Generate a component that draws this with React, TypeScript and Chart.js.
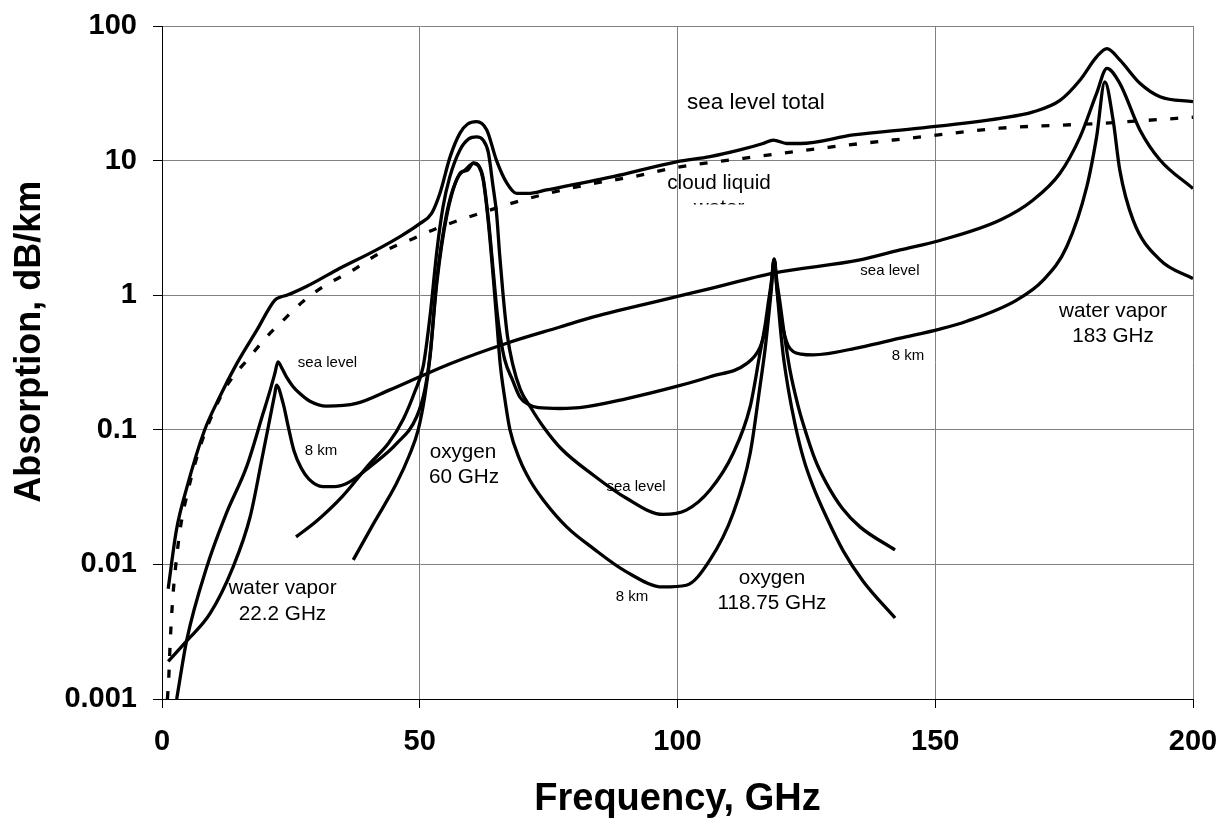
import React, { useEffect, useRef } from "react";
import { Chart, registerables } from "chart.js";

Chart.register(...registerables);

type Pt = [number, number];

// ---- axes ----
const FREQUENCY_TICKS = [0, 50, 100, 150, 200];
const ABSORPTION_TICKS = [0.001, 0.01, 0.1, 1, 10, 100];

// ---- series: [frequency GHz, absorption dB/km] ----
const seaLevelTotal: Pt[] = [
  [1.2, 0.0066], [2.8, 0.018], [4.8, 0.037], [8.2, 0.098], [11.2, 0.176], [14.5, 0.31],
  [18.4, 0.55], [21.9, 0.92], [23, 0.97], [24.2, 1.0], [28, 1.16], [33.9, 1.54], [41.6, 2.17],
  [46, 2.7], [50, 3.4], [52.3, 4.06], [53.9, 5.7], [55.9, 10.7], [57.8, 16], [59.3, 18.7],
  [61, 19.5], [63, 16.9], [64.9, 10], [66.9, 6.8], [68.8, 5.7], [71, 5.7], [74.6, 6.05],
  [87.5, 7.6], [99.8, 9.8], [106.3, 10.7], [112.1, 12], [116.6, 13.4], [118.6, 14.2],
  [121.2, 13.4], [123.8, 13.4], [134.1, 15.5], [147, 17.4], [162.6, 20.6], [169, 23],
  [174.2, 28], [178.1, 39.7], [181.3, 59], [183.3, 68], [185.8, 56], [189.7, 37.5],
  [193.6, 29.8], [200, 27.4],
];

const cloudLiquidWater: Pt[] = [
  [1.05, 0.001], [1.3, 0.0014], [1.6, 0.0027], [2.1, 0.0057], [2.5, 0.0085], [3.5, 0.018],
  [5.1, 0.036], [7.4, 0.075], [9.3, 0.118], [12.5, 0.21], [17.1, 0.35], [20.3, 0.49],
  [23.5, 0.65], [27.4, 0.9], [31.3, 1.16], [37.1, 1.54], [41.6, 1.99], [44.9, 2.29],
  [48.8, 2.64], [53.3, 3.14], [61.7, 4.06], [70, 5.1], [82.3, 6.6], [91.4, 7.6], [99.8, 8.9],
  [112.8, 10.4], [129.6, 12.6], [146, 14.8], [162.6, 17.4], [182, 18.9], [200, 21],
];

const waterVaporSeaLevel: Pt[] = [
  [2.85, 0.001], [4.8, 0.00274], [8.7, 0.0096], [12.5, 0.024], [16.4, 0.053], [19.6, 0.132],
  [21, 0.198], [21.9, 0.263], [22.5, 0.32], [23.2, 0.29], [24.2, 0.245], [25.4, 0.21],
  [26.8, 0.185], [28.7, 0.163], [31.9, 0.15], [37.7, 0.157], [44.2, 0.198], [50, 0.248],
  [55.9, 0.31], [66.9, 0.44], [77.2, 0.58], [83.7, 0.69], [99.8, 0.975], [106.3, 1.12],
  [118.6, 1.46], [135.4, 1.83], [143.2, 2.17], [150.9, 2.55], [162.6, 3.62], [169, 5.1],
  [174.2, 8.05], [178.1, 15], [181.3, 31.6], [183.3, 48.5], [185.8, 37.5], [189.7, 16.9],
  [193.6, 10.1], [200, 6.2],
];

const eightKmTotal: Pt[] = [
  [1.2, 0.0019], [4.8, 0.0027], [9.3, 0.0043], [13.8, 0.0096], [17.1, 0.0226], [19.6, 0.067],
  [21, 0.125], [21.9, 0.187], [22.2, 0.215], [23.5, 0.157], [24.5, 0.105], [25.6, 0.07],
  [27, 0.052], [28.5, 0.043], [31.2, 0.0378], [34, 0.038], [36.4, 0.041], [40.3, 0.053],
  [45.5, 0.079], [49.4, 0.125], [51, 0.2], [52, 0.36], [53.3, 1.3], [55.2, 4.0], [57, 7],
  [58.4, 8.3], [59.3, 8.5], [60.4, 9.6], [61.5, 9.1], [62.3, 7.4], [63.3, 3.7], [64.3, 1.45],
  [65, 0.75], [65.6, 0.5], [66.5, 0.33], [68, 0.234], [69.4, 0.176], [71, 0.155], [73, 0.146],
  [77.2, 0.144], [81, 0.146], [90, 0.17], [99.8, 0.21], [106.3, 0.248], [113.4, 0.31],
  [116, 0.41], [117, 0.55], [117.7, 0.8], [118.2, 1.2], [118.75, 1.85], [119.3, 1.1],
  [120, 0.7], [120.8, 0.5], [121.5, 0.42], [122.5, 0.38], [124, 0.365], [126.3, 0.36],
  [135.4, 0.41], [143.2, 0.48], [150.9, 0.56], [156.1, 0.64], [165.8, 0.92], [171, 1.3],
  [175.5, 2.29], [179.4, 6.4], [181.3, 15], [182.9, 38.5], [184.5, 20], [185.8, 8.5],
  [188.4, 3.6], [193.6, 1.83], [200, 1.33],
];

const oxygenSeaLevel: Pt[] = [
  [26, 0.016], [30, 0.021], [35, 0.032], [40.3, 0.056], [44, 0.08], [46.8, 0.12],
  [49, 0.19], [50.7, 0.3], [52, 0.7], [53.3, 2.1], [54.5, 4.5], [55.8, 7.5], [57.8, 12],
  [59.5, 14.5], [61, 15], [62.3, 14.2], [63.3, 11.5], [64.2, 6.5], [64.9, 4.06], [65.5, 2],
  [66.2, 0.97], [67, 0.5], [68, 0.31], [69.5, 0.2], [71.4, 0.149], [74, 0.105], [77.5, 0.072],
  [83.7, 0.046], [90.1, 0.031], [97.2, 0.0235], [101.7, 0.0253], [106.3, 0.0357],
  [110.8, 0.067], [114.1, 0.149], [116, 0.37], [117, 0.6], [117.6, 0.87], [118.2, 1.25],
  [118.75, 1.85], [119.3, 1.25], [119.9, 0.87], [120.6, 0.55], [121.8, 0.28], [123.4, 0.15],
  [124.4, 0.11], [126.7, 0.06], [128.9, 0.04], [132, 0.026], [135.4, 0.019], [142.2, 0.0128],
];

const oxygenEightKm: Pt[] = [
  [37.1, 0.0108], [41, 0.02], [45.5, 0.04], [48, 0.065], [49.7, 0.1], [51, 0.18], [52, 0.35],
  [53.3, 1.22], [55.2, 3.83], [57.8, 8.05], [58.6, 8.4], [60.4, 9.55], [61.5, 9.0],
  [62.3, 7.2], [63.3, 3.5], [64.3, 1.3], [65, 0.6], [65.6, 0.31], [66.5, 0.17], [67.5, 0.1],
  [69.4, 0.06], [71.4, 0.042], [74, 0.03], [78.5, 0.019], [83.7, 0.0131], [90.1, 0.0088],
  [97.2, 0.0068], [101.7, 0.007], [106.3, 0.0108], [110.8, 0.024], [114.1, 0.067], [116, 0.21],
  [117, 0.4], [117.6, 0.65], [118.2, 1.1], [118.75, 1.85], [119.3, 1.1], [119.9, 0.6],
  [120.5, 0.36], [121.5, 0.2], [122.8, 0.11], [124.5, 0.06], [126.3, 0.038], [129, 0.022],
  [132.2, 0.0125], [136, 0.0075], [142.2, 0.004],
];

// ---- annotation texts, anchored in data coordinates ----
interface Note { text: string; f: number; a: number; size: number; clip?: number }
const NOTES: Note[] = [
  { text: "sea level total", f: 115.2, a: 26.8, size: 22.5 },
  { text: "cloud liquid", f: 108.05, a: 6.82, size: 20.7 },
  { text: "water", f: 108.05, a: 4.44, size: 20.7, clip: 3.5 },
  { text: "sea level", f: 32.1, a: 0.313, size: 15 },
  { text: "8 km", f: 30.84, a: 0.0695, size: 15 },
  { text: "water vapor", f: 23.37, a: 0.00668, size: 20.7 },
  { text: "22.2 GHz", f: 23.37, a: 0.00428, size: 20.7 },
  { text: "oxygen", f: 58.39, a: 0.0684, size: 20.7 },
  { text: "60 GHz", f: 58.58, a: 0.0446, size: 20.7 },
  { text: "sea level", f: 91.95, a: 0.0376, size: 15 },
  { text: "8 km", f: 91.17, a: 0.00573, size: 15 },
  { text: "oxygen", f: 118.33, a: 0.00793, size: 20.7 },
  { text: "118.75 GHz", f: 118.33, a: 0.00517, size: 20.7 },
  { text: "sea level", f: 141.2, a: 1.513, size: 15 },
  { text: "8 km", f: 144.7, a: 0.353, size: 15 },
  { text: "water vapor", f: 184.48, a: 0.763, size: 20.7 },
  { text: "183 GHz", f: 184.48, a: 0.498, size: 20.7 },
];

const X_TITLE = "Frequency, GHz";
const Y_TITLE = "Absorption, dB/km";

const FONT = '"Liberation Sans", Arial, Helvetica, sans-serif';

const notesPlugin = {
  id: "notes",
  afterDraw(chart: any) {
    const { ctx, chartArea, scales } = chart;
    const xs = scales.x;
    const ys = scales.y;
    ctx.save();
    ctx.fillStyle = "#000";
    ctx.textAlign = "center";
    ctx.textBaseline = "middle";
    for (const n of NOTES) {
      const px = xs.getPixelForValue(n.f);
      const py = ys.getPixelForValue(n.a);
      ctx.save();
      if (n.clip !== undefined) {
        ctx.beginPath();
        ctx.rect(0, 0, chart.width, py - n.clip);
        ctx.clip();
      }
      ctx.font = `${n.size}px ${FONT}`;
      ctx.fillText(n.text, px, py);
      ctx.restore();
    }
    // axis titles
    ctx.font = `bold 38px ${FONT}`;
    ctx.fillText(X_TITLE, (chartArea.left + chartArea.right) / 2, 800);
    ctx.save();
    ctx.translate(30, 341.7);
    ctx.rotate(-Math.PI / 2);
    ctx.font = `bold 36px ${FONT}`;
    ctx.fillText(Y_TITLE, 0, 0);
    ctx.restore();
    ctx.restore();
  },
};

const toXY = (pts: Pt[]) => pts.map(([x, y]) => ({ x, y }));

export default function App() {
  const ref = useRef<HTMLCanvasElement | null>(null);

  useEffect(() => {
    if (!ref.current) return;
    const solid = (label: string, pts: Pt[]) => ({
      label,
      data: toXY(pts),
      borderColor: "#000",
      borderWidth: 3.3,
      pointRadius: 0,
      fill: false,
      cubicInterpolationMode: "monotone" as const,
    });
    const chart = new Chart(ref.current, {
      type: "line",
      data: {
        datasets: [
          solid("sea level total", seaLevelTotal),
          {
            ...solid("cloud liquid water", cloudLiquidWater),
            borderDash: [8, 13.5],
          },
          solid("water vapor, sea level", waterVaporSeaLevel),
          solid("8 km", eightKmTotal),
          solid("oxygen, sea level", oxygenSeaLevel),
          solid("oxygen, 8 km", oxygenEightKm),
        ],
      },
      options: {
        animation: false,
        responsive: true,
        maintainAspectRatio: false,
        parsing: false as any,
        layout: { padding: { left: 0, top: 26, right: 27, bottom: 0 } },
        plugins: {
          legend: { display: false },
          tooltip: { enabled: false },
          title: { display: false },
        },
        scales: {
          x: {
            type: "linear",
            min: 0,
            max: 200,
            afterBuildTicks: (s: any) => {
              s.ticks = FREQUENCY_TICKS.map((v) => ({ value: v }));
            },
            afterFit: (s: any) => {
              s.height = 120;
              s.paddingLeft = 0;
              s.paddingRight = 0;
              s.paddingTop = 0;
              s.paddingBottom = 0;
            },
            grid: {
              color: "#808080",
              lineWidth: 1,
              tickColor: "#000",
              tickLength: 9,
              drawTicks: true,
            },
            border: { color: "#000", width: 1 },
            ticks: {
              color: "#000",
              font: { family: FONT, size: 29, weight: "bold" },
              padding: 17,
              maxRotation: 0,
              autoSkip: false,
            },
          },
          y: {
            type: "logarithmic",
            min: 0.001,
            max: 100,
            afterBuildTicks: (s: any) => {
              s.ticks = ABSORPTION_TICKS.map((v) => ({ value: v }));
            },
            afterFit: (s: any) => {
              s.width = 162;
              s.paddingLeft = 0;
              s.paddingRight = 0;
              s.paddingTop = 0;
              s.paddingBottom = 0;
            },
            grid: {
              color: "#808080",
              lineWidth: 1,
              tickColor: "#000",
              tickLength: 9,
              drawTicks: true,
            },
            border: { color: "#000", width: 1 },
            ticks: {
              color: "#000",
              font: { family: FONT, size: 29, weight: "bold" },
              padding: 16,
              autoSkip: false,
              callback: (v: any) => String(v),
            },
          },
        },
      },
      plugins: [notesPlugin],
    });
    return () => chart.destroy();
  }, []);

  return (
    <div style={{ position: "fixed", left: 0, top: 0, width: 1220, height: 819, background: "#fff" }}>
      <canvas ref={ref} style={{ display: "block" }} />
    </div>
  );
}
